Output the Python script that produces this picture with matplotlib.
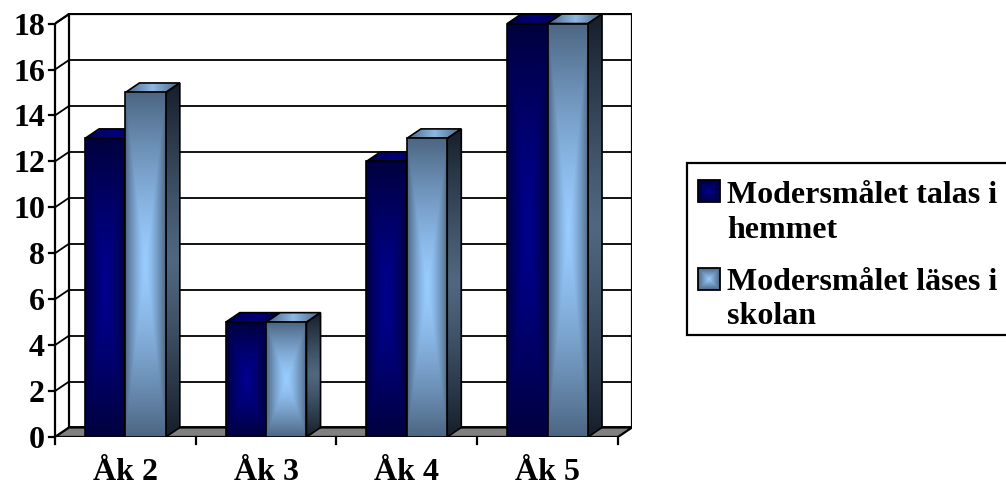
import numpy as np
import matplotlib
matplotlib.use("Agg")
import matplotlib.pyplot as plt
from matplotlib.patches import Polygon, Rectangle
from matplotlib.transforms import offset_copy

# ---- data ----
categories = ["Åk 2", "Åk 3", "Åk 4", "Åk 5"]
series_names = ["Modersmålet talas i\nhemmet", "Modersmålet läses i\nskolan"]
talas = [13, 5, 12, 18]
lases = [15, 5, 13, 18]
yticks = [0, 2, 4, 6, 8, 10, 12, 14, 16, 18]

FONT = dict(family="Liberation Serif", weight="bold", size=23)

W, H = 1006, 487
fig = plt.figure(figsize=(W / 100, H / 100), dpi=100)
fig.patch.set_facecolor("white")

ax = fig.add_axes([55 / W, (H - 437) / H, (632 - 55) / W, (437 - 13) / H])
ax.set_axis_off()
XMAX, YMAX = 4.1, 18.46
ddx, ddy = 0.1, 0.414  # depth offset in data units


def hexrgb(h):
    h = h.lstrip("#")
    return np.array([int(h[i:i + 2], 16) / 255 for i in (0, 2, 4)])


def grad(center, edge, mode="rect", power=1.3, n=120):
    u = np.linspace(-1, 1, n)
    U, V = np.meshgrid(u, u)
    if mode == "rect":
        T = np.maximum(np.abs(U), np.abs(V))
    elif mode == "h":
        T = np.abs(U)
    else:
        T = np.abs(V)
    T = T ** power
    c, e = hexrgb(center), hexrgb(edge)
    return c[None, None, :] * (1 - T[..., None]) + e[None, None, :] * T[..., None]


def grad_poly(axis, verts, img, z, lw=1.2):
    verts = np.asarray(verts)
    poly = Polygon(verts, closed=True, transform=axis.transData, facecolor="none",
                   edgecolor="black", linewidth=lw, zorder=z + 0.1, joinstyle="miter")
    clip = Polygon(verts, closed=True, transform=axis.transData)
    im = axis.imshow(img, extent=(verts[:, 0].min(), verts[:, 0].max(),
                                  verts[:, 1].min(), verts[:, 1].max()),
                     origin="lower", aspect="auto", interpolation="bilinear", zorder=z)
    im.set_clip_path(clip)
    axis.add_patch(poly)


LW_AX = 1.6
LW_GRID = 1.3

# back wall gridlines & left wall diagonals
for v in yticks:
    ax.plot([ddx, 4 + ddx], [v + ddy, v + ddy], color="black", lw=LW_GRID, zorder=1,
            solid_capstyle="butt")
    ax.plot([0, ddx], [v, v + ddy], color="black", lw=LW_GRID, zorder=1)
# wall borders
ax.plot([ddx, ddx], [ddy, 18 + ddy], color="black", lw=LW_AX, zorder=1)
ax.plot([4 + ddx, 4 + ddx], [ddy, 18 + ddy], color="black", lw=LW_AX, zorder=1)
ax.plot([ddx, 4 + ddx], [18 + ddy, 18 + ddy], color="black", lw=LW_AX, zorder=1)

# floor
ax.add_patch(Polygon([(0, 0), (4, 0), (4 + ddx, ddy), (ddx, ddy)], closed=True,
                     facecolor="#808080", edgecolor="black", lw=LW_AX, zorder=2))
ax.plot([0, 4], [0, 0], color="black", lw=2.2, zorder=2.5)

# front y axis + ticks
ax.plot([0, 0], [0, 18], color="black", lw=LW_AX, zorder=6, clip_on=False)
ax.plot([0, ddx], [18, 18 + ddy], color="black", lw=LW_AX, zorder=1)
tick_off = offset_copy(ax.transData, fig=fig, x=-10, y=-11, units="dots")
for v in yticks:
    ax.plot([-0.045, 0], [v, v], color="black", lw=LW_AX, zorder=6, clip_on=False)
    ax.text(0, v, str(v), transform=tick_off, ha="right", va="baseline", **FONT)

# category ticks & labels
for i in range(len(categories) + 1):
    ax.plot([i, i], [0, -0.32], color="black", lw=LW_AX, zorder=6, clip_on=False)
lab_off = offset_copy(ax.transData, fig=fig, x=0, y=-43, units="dots")
for i, c in enumerate(categories):
    ax.text(i + 0.5, 0, c, transform=lab_off, ha="center", va="baseline", **FONT)

# bars
bw = 0.287
for i in range(len(categories)):
    # series 1 (dark)
    x0, x1, h = i + 0.5 - bw, i + 0.5, talas[i]
    grad_poly(ax, [(x0, h), (x1, h), (x1 + ddx, h + ddy), (x0 + ddx, h + ddy)],
              grad("#00007A", "#000052", "h", 1.0), 10)
    grad_poly(ax, [(x1, 0), (x1 + ddx, ddy), (x1 + ddx, h + ddy), (x1, h)],
              grad("#000060", "#000020", "v", 1.0), 10)
    grad_poly(ax, [(x0, 0), (x1, 0), (x1, h), (x0, h)],
              grad("#00008E", "#00003E", "rect", 1.3), 11)
    # series 2 (light)
    x0, x1, h = i + 0.5, i + 0.5 + bw, lases[i]
    grad_poly(ax, [(x0, h), (x1, h), (x1 + ddx, h + ddy), (x0 + ddx, h + ddy)],
              grad("#8FB8E2", "#4A6485", "h", 1.0), 12)
    grad_poly(ax, [(x1, 0), (x1 + ddx, ddy), (x1 + ddx, h + ddy), (x1, h)],
              grad("#50677F", "#161F2A", "v", 1.2), 12)
    grad_poly(ax, [(x0, 0), (x1, 0), (x1, h), (x0, h)],
              grad("#99CCFF", "#4D6683", "rect", 1.4), 13)

ax.set_xlim(0, XMAX)
ax.set_ylim(0, YMAX)

# ---- legend (figure pixel overlay) ----
lax = fig.add_axes([0, 0, 1, 1])
lax.set_axis_off()
lax.set_xlim(0, W)
lax.set_ylim(H, 0)
lax.add_patch(Rectangle((687, 163), 340, 172, facecolor="white", edgecolor="black",
                        lw=1.6, zorder=1, clip_on=False))
marker_cols = [("#00008E", "#00003E"), ("#99CCFF", "#4D6683")]
marker_tops = [180, 268]
baselines = [(203, 238), (290, 324)]
for k, name in enumerate(series_names):
    t = marker_tops[k]
    verts = [(698, t), (720, t), (720, t + 22), (698, t + 22)]
    grad_poly(lax, verts, grad(*marker_cols[k], "rect", 1.0), 3, lw=1.3)
    for line, bl in zip(name.split("\n"), baselines[k]):
        lax.text(727, bl, line, ha="left", va="baseline", zorder=4, **FONT)
lax.set_xlim(0, W)
lax.set_ylim(H, 0)

fig.savefig("out.png", dpi=100)
